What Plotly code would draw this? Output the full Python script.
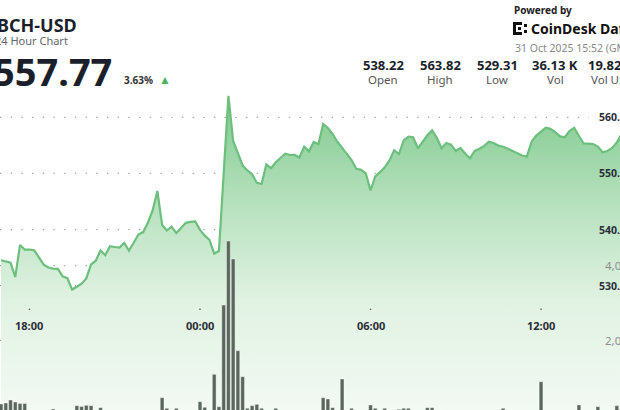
import plotly.graph_objects as go
import pandas as pd

W, H = 620, 410

# ---------------- data ----------------
start_time = "2025-10-30 17:00"   # first visible 10-minute point
price = [534.54, 534.31, 534.10, 531.55, 537.25, 536.43, 536.45, 536.30, 535.11, 533.76,
         533.24, 533.04, 533.01, 531.67, 531.33, 529.31, 529.82, 530.35, 531.30, 533.81,
         534.45, 536.29, 535.43, 537.04, 536.89, 536.80, 537.62, 536.25, 537.64, 539.12,
         539.55, 541.22, 543.41, 546.87, 540.81, 539.83, 540.51, 539.37, 540.26, 541.20,
         541.36, 541.44, 539.94, 538.91, 538.18, 535.72, 536.18, 550.08, 563.82, 555.78,
         553.60, 551.41, 550.54, 549.85, 548.35, 548.12, 551.59, 550.93, 552.00, 552.71,
         553.52, 553.28, 553.30, 552.84, 554.76, 553.94, 555.60, 555.21, 558.81, 558.09,
         557.01, 555.64, 554.46, 553.48, 552.36, 550.84, 550.63, 550.02, 546.96, 549.47,
         550.22, 551.09, 552.32, 554.14, 553.46, 555.88, 556.56, 556.44, 554.48, 555.67,
         556.79, 557.67, 556.35, 554.48, 555.42, 555.12, 554.00, 554.53, 553.50, 552.70,
         554.00, 554.41, 554.92, 555.65, 555.42, 554.94, 554.76, 554.41, 553.98, 553.64,
         553.19, 553.00, 555.65, 556.74, 557.51, 558.13, 557.95, 557.36, 556.60, 556.44,
         557.54, 558.13, 556.67, 555.33, 555.30, 555.24, 554.78, 553.78, 554.00, 554.53,
         555.51, 557.02]
volume = [292, 319, 400, 346, 306, 306, 110, 95, 80, 100,
          90, 158, 85, 70, 95, 120, 247, 225, 257, 247,
          110, 193, 90, 75, 80, 95, 70, 85, 100, 90,
          80, 110, 95, 120, 461, 177, 90, 177, 85, 80,
          95, 110, 354, 204, 120, 1088, 220, 2946, 4660, 4180,
          1721, 1024, 177, 247, 284, 177, 110, 95, 177, 100,
          85, 90, 80, 95, 110, 90, 100, 120, 461, 426,
          193, 110, 962, 100, 177, 90, 85, 110, 265, 177,
          100, 177, 90, 95, 150, 177, 177, 100, 85, 110,
          193, 193, 100, 130, 90, 85, 80, 95, 75, 90,
          85, 80, 95, 90, 85, 100, 177, 90, 80, 85,
          95, 90, 120, 110, 890, 110, 95, 90, 85, 100,
          95, 110, 265, 120, 90, 110, 220, 100, 95, 110,
          247, 150]
price_ticks = [530, 540, 550, 560]
price_tick_labels = ["530.00", "540.00", "550.00", "560.00"]
volume_ticks = [2000, 4000]
volume_tick_labels = ["2,000", "4,000"]
time_ticks = ["2025-10-30 18:00", "2025-10-31 00:00", "2025-10-31 06:00", "2025-10-31 12:00"]
time_tick_labels = ["18:00", "00:00", "06:00", "12:00"]
stat_values = ["538.22", "563.82", "529.31", "36.13 K", "19.82 M"]
stat_labels = ["Open", "High", "Low", "Vol", "Vol USD"]

times = pd.date_range(start_time, periods=len(price), freq="10min")

# ---------------- helpers ----------------
def px(x):
    return x / W

def py(y):
    return 1 - y / H

FONT = "Noto Sans"
DARK = "#1b1f2b"

fig = go.Figure()

fig.add_trace(go.Scatter(
    x=times, y=price, mode="lines",
    line=dict(color="#6cbf7c", width=2.2),
    fill="tozeroy",
    fillgradient=dict(type="vertical", start=507.85, stop=564,
                      colorscale=[[0, "#f3f9f3"], [0.35, "#e0f2e2"],
                                  [0.65, "#b7e1be"], [1, "#7ec98d"]]),
    hoverinfo="skip", yaxis="y"))

fig.add_trace(go.Bar(
    x=times, y=volume, yaxis="y2",
    width=480000,
    marker=dict(color="#5b675d", line=dict(color="rgba(255,255,255,0.7)", width=0.6)),
    hoverinfo="skip"))

shapes = []
# dotted grid lines
for v in price_ticks:
    shapes.append(dict(type="line", xref="paper", yref="y", x0=0, x1=px(589), y0=v, y1=v,
                       line=dict(color="#a3a3a3", width=1.3, dash="1.3px,9.4px"), layer="below"))
for v in volume_ticks:
    shapes.append(dict(type="line", xref="paper", yref="y2", x0=0, x1=px(589), y0=v, y1=v,
                       line=dict(color="#a3a3a3", width=1.3, dash="1.3px,9.4px"), layer="below"))
# time tick dots
for t in time_ticks:
    shapes.append(dict(type="line", xref="x", yref="paper", x0=t, x1=t, y0=py(310), y1=py(308.6),
                       line=dict(color="#666", width=1.4)))
# CoinDesk logo blocks
logo = [(513, 22, 516, 35), (513, 22, 522, 25), (513, 32, 522, 35),
        (518, 27, 521, 30), (524, 24, 527, 27), (524, 30, 527, 33)]
for x0, y0, x1, y1 in logo:
    shapes.append(dict(type="rect", xref="paper", yref="paper", x0=px(x0), x1=px(x1),
                       y0=py(y1), y1=py(y0), line=dict(width=0), fillcolor="#111"))

ann = []
def text(x, y, s, size, color=DARK, bold=False, anchor="left", yref="paper", xref="paper"):
    ann.append(dict(x=x, y=y, xref=xref, yref=yref, text=f"<b>{s}</b>" if bold else s,
                    showarrow=False, xanchor=anchor, yanchor="middle",
                    font=dict(family=FONT, size=size, color=color)))

# header left
text(px(-5), py(25), "BCH-USD", 18, bold=True)
text(px(-7), py(41), "24 Hour Chart", 11, color="#666")
text(px(-9), py(71), "557.77", 38, bold=True)
text(px(122), py(80), "3.63%", 10, color="#333", bold=True)
text(px(157), py(80), "▲", 12, color="#4cb35e")
# header right
text(px(512), py(10), "Powered by", 10, color="#222", bold=True)
text(px(529), py(29), "CoinDesk Data", 14, color="#111", bold=True)
text(px(513), py(48), "31 Oct 2025 15:52 (GMT)", 10.5, color="#8a8a8a")
stat_centers = [383, 440, 497, 555, 612]
for c, v, l in zip(stat_centers, stat_values, stat_labels):
    text(px(c), py(65), v, 13, bold=True, anchor="center")
    text(px(c), py(80), l, 11.5, color="#555", anchor="center")
# axis labels
for v, l in zip(price_ticks, price_tick_labels):
    text(px(597), v, l, 10.5, color="#2a2e38", bold=True, yref="y")
for v, l in zip(volume_ticks, volume_tick_labels):
    text(px(603), v, l, 11.5, color="#8d8d8d", yref="y2")
for t, l in zip(time_ticks, time_tick_labels):
    ann.append(dict(x=t, y=py(325), xref="x", yref="paper", text=f"<b>{l}</b>", showarrow=False,
                    xanchor="center", yanchor="middle",
                    font=dict(family=FONT, size=11, color="#2a2e38")))

x_start = pd.Timestamp("2025-10-31 00:00") - pd.Timedelta(hours=200 / 28.42)
x_end = pd.Timestamp("2025-10-31 00:00") + pd.Timedelta(hours=420 / 28.42)

fig.update_layout(
    width=W, height=H, margin=dict(l=0, r=0, t=0, b=0),
    paper_bgcolor="white", plot_bgcolor="white", showlegend=False,
    xaxis=dict(range=[x_start, x_end], visible=False),
    yaxis=dict(range=[507.85, 580.9], visible=False),
    yaxis2=dict(range=[131, 11123], visible=False, overlaying="y"),
    bargap=0, shapes=shapes, annotations=ann,
)

fig.write_html("out.html", config={"displayModeBar": False, "staticPlot": True},
               post_script="document.body.style.margin='0';document.body.style.overflow='hidden';")
